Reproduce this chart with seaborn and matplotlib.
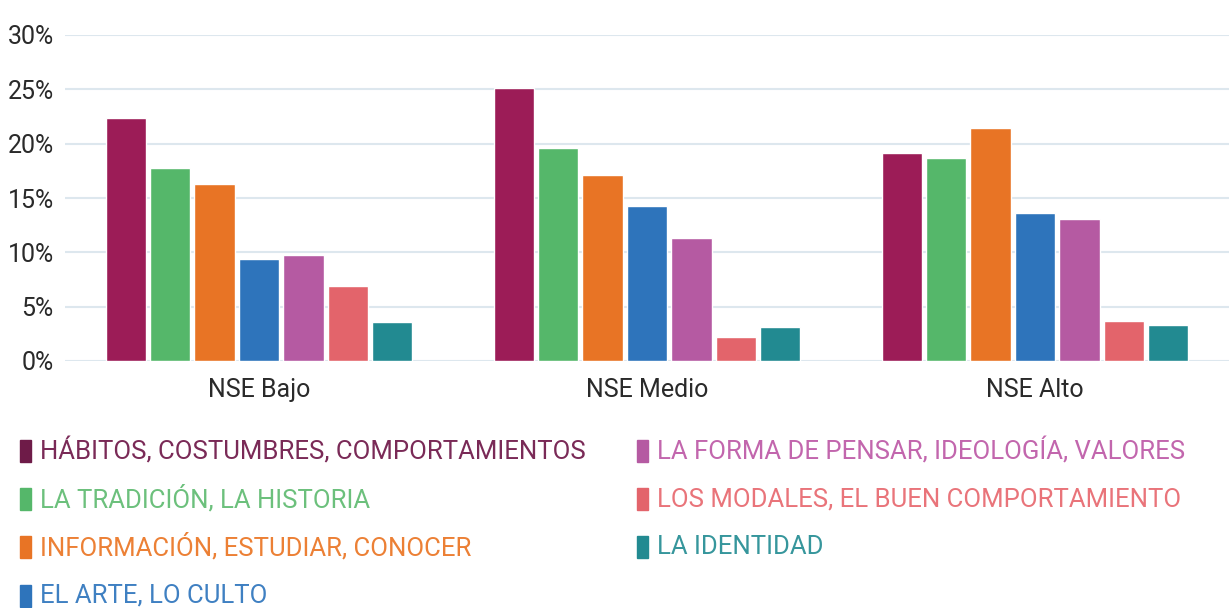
import matplotlib
matplotlib.use("Agg")
import matplotlib.pyplot as plt
import seaborn as sns
import pandas as pd
from matplotlib.patches import Rectangle
from matplotlib.ticker import FuncFormatter

groups = ["NSE Bajo", "NSE Medio", "NSE Alto"]
categories = [
    "HÁBITOS, COSTUMBRES, COMPORTAMIENTOS",
    "LA TRADICIÓN, LA HISTORIA",
    "INFORMACIÓN, ESTUDIAR, CONOCER",
    "EL ARTE, LO CULTO",
    "LA FORMA DE PENSAR, IDEOLOGÍA, VALORES",
    "LOS MODALES, EL BUEN COMPORTAMIENTO",
    "LA IDENTIDAD",
]
habitos = [22.4, 25.1, 19.1]
tradicion = [17.8, 19.6, 18.7]
informacion = [16.3, 17.1, 21.4]
arte = [9.4, 14.3, 13.6]
forma = [9.8, 11.3, 13.1]
modales = [6.9, 2.2, 3.7]
identidad = [3.6, 3.1, 3.3]
series = [habitos, tradicion, informacion, arte, forma, modales, identidad]
yticks = [0, 5, 10, 15, 20, 25, 30]

bar_colors = ["#9c1c57", "#55b76a", "#e87425", "#2e74bb", "#b55aa2", "#e3646b", "#228a91"]
legend_colors = ["#6e1b48", "#55b76a", "#e87425", "#2e74bb", "#b55aa2", "#e3646b", "#228a91"]
text_colors = ["#7a2a57", "#6cc07c", "#ec8035", "#3f80c2", "#c266ad", "#e9747a", "#36969c"]

rows = []
for cat, vals in zip(categories, series):
    for g, v in zip(groups, vals):
        rows.append({"group": g, "cat": cat, "value": v})
df = pd.DataFrame(rows)

sns.set_theme(style="white")
plt.rcParams["font.family"] = ["Roboto", "DejaVu Sans"]

fig = plt.figure(figsize=(12.29, 6.08), dpi=100)
ax = fig.add_axes([65 / 1229, 1 - 361 / 608, (1229 - 65) / 1229, (361 - 35) / 608])

sns.barplot(data=df, x="group", y="value", hue="cat", hue_order=categories,
            order=groups, palette=bar_colors, width=0.8, gap=0.09,
            saturation=1, legend=False, ax=ax, errorbar=None)

ax.set_ylim(0, 30)
ax.set_xlim(-0.5, 2.5)
ax.set_yticks(yticks)
ax.yaxis.set_major_formatter(FuncFormatter(lambda v, p: f"{int(v)}%"))
ax.grid(axis="y", color="#dde7ee", linewidth=1.5)
ax.set_axisbelow(True)
for s in ax.spines.values():
    s.set_visible(False)
ax.tick_params(axis="both", length=0, labelsize=18, labelcolor="#2a2a2a")
ax.tick_params(axis="y", pad=8)
ax.tick_params(axis="x", pad=12)
ax.set_xlabel("")
ax.set_ylabel("")

# legend (column-major: 4 then 3)
row_y = [451, 499, 547, 596]
col_x = [20, 637]
for i, (cat, col, tcol) in enumerate(zip(categories, legend_colors, text_colors)):
    c = 0 if i < 4 else 1
    r = i if i < 4 else i - 4
    xs = col_x[c]
    yc = row_y[r]
    fig.patches.append(Rectangle((xs / 1229, 1 - (yc + 11) / 608), 11 / 1229, 22 / 608,
                                 transform=fig.transFigure, color=col, zorder=3))
    fig.text((xs + 20) / 1229, 1 - yc / 608, cat, color=tcol, fontsize=18.5,
             va="center", ha="left")

fig.savefig("out.png", dpi=100)
